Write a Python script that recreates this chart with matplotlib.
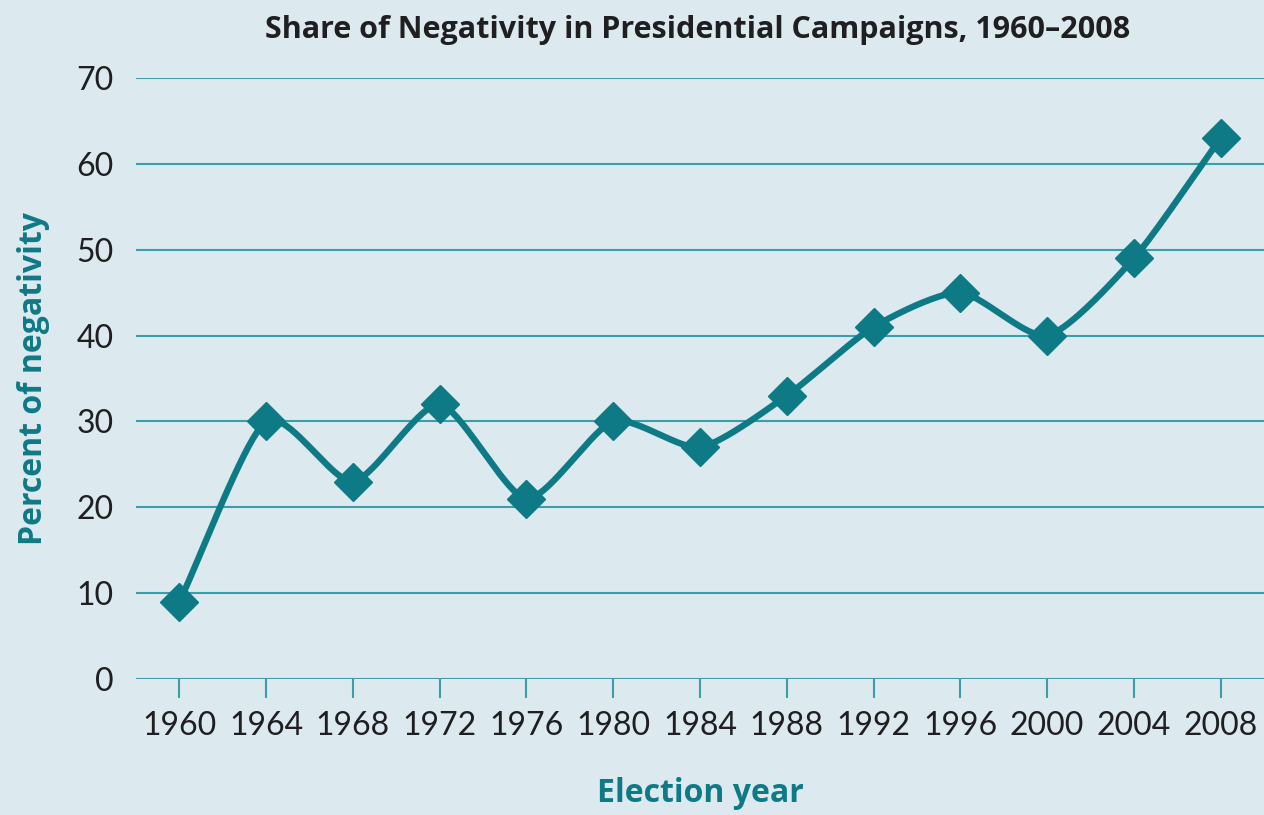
import numpy as np
import matplotlib
matplotlib.use("Agg")
import matplotlib.pyplot as plt

years = [1960, 1964, 1968, 1972, 1976, 1980, 1984, 1988, 1992, 1996, 2000, 2004, 2008]
negativity = [9, 30, 23, 32, 21, 30, 27, 33, 41, 45, 40, 49, 63]
y_ticks = [0, 10, 20, 30, 40, 50, 60, 70]

BG = "#dce9ef"
TEAL = "#0e7a86"
GRID = "#3a9fa9"
TEXT = "#1f1f22"


def cardinal(x, y, k=0.35, n=40):
    x = np.asarray(x, float)
    y = np.asarray(y, float)
    P = np.column_stack([x, y])
    m = np.zeros_like(P)
    m[1:-1] = k * (P[2:] - P[:-2])
    m[0] = k * 2 * (P[1] - P[0])
    m[-1] = k * 2 * (P[-1] - P[-2])
    t = np.linspace(0, 1, n)[:, None]
    h00 = 2 * t ** 3 - 3 * t ** 2 + 1
    h10 = t ** 3 - 2 * t ** 2 + t
    h01 = -2 * t ** 3 + 3 * t ** 2
    h11 = t ** 3 - t ** 2
    segs = []
    for i in range(len(P) - 1):
        seg = h00 * P[i] + h10 * m[i] + h01 * P[i + 1] + h11 * m[i + 1]
        segs.append(seg if i == len(P) - 2 else seg[:-1])
    out = np.vstack(segs)
    return out[:, 0], out[:, 1]


fig = plt.figure(figsize=(12.64, 8.15), dpi=100, facecolor=BG)
ax = fig.add_axes([136 / 1264, (815 - 679) / 815, 1 - 136 / 1264, 601 / 815])
ax.set_facecolor(BG)
ax.set_xlim(1958, 2010)
ax.set_ylim(0, 70)

for v in y_ticks:
    ax.axhline(v, color=GRID, lw=1.5, zorder=1)

sx, sy = cardinal(years, negativity)
ax.plot(sx, sy, color=TEAL, lw=4.6, solid_capstyle="round", solid_joinstyle="round",
        zorder=3, clip_on=False)
ax.plot(years, negativity, linestyle="none", marker="D", markersize=19,
        color=TEAL, zorder=4, clip_on=False)

for s in ax.spines.values():
    s.set_visible(False)

ax.set_xticks(years)
ax.set_xticklabels([str(y) for y in years])
ax.set_yticks(y_ticks)
ax.set_yticklabels([str(v) for v in y_ticks])
ax.tick_params(axis="x", length=14, width=1.5, color=GRID, pad=9,
               labelsize=23, labelcolor=TEXT)
ax.tick_params(axis="y", length=0, pad=16, labelsize=23, labelcolor=TEXT)
for lab in ax.get_xticklabels() + ax.get_yticklabels():
    lab.set_fontfamily("Lato")

ax.set_xlabel("Election year", fontsize=23, fontweight="bold", color=TEAL,
              family="Open Sans", labelpad=26)
ax.set_ylabel("Percent of negativity", fontsize=23, fontweight="bold", color=TEAL,
              family="Open Sans", labelpad=19)
fig.text(0.552, 0.963, "Share of Negativity in Presidential Campaigns, 1960–2008",
         ha="center", va="center", fontsize=22, fontweight="bold", color=TEXT,
         family="Open Sans")

fig.savefig("out.png", dpi=100, facecolor=BG)
